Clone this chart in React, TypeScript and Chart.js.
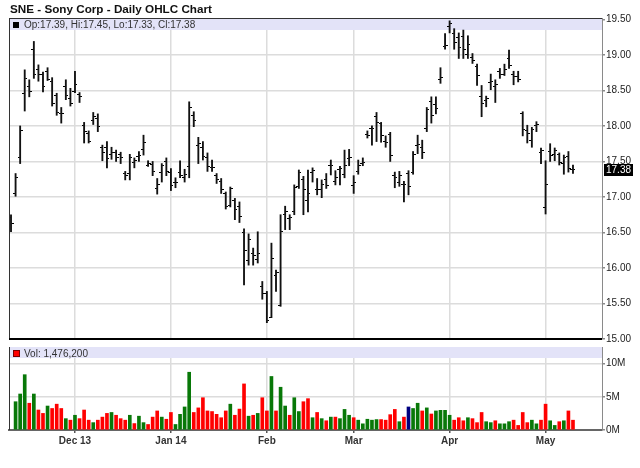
import React, { useEffect, useRef } from 'react';
import { Chart, registerables } from 'chart.js';

Chart.register(...registerables);

// ---------------- data ----------------
const TITLE = 'SNE - Sony Corp - Daily OHLC Chart';
const MONTH_START_INDEX = [14, 35, 56, 75, 96, 117];
const MONTH_LABELS = ['Dec 13', 'Jan 14', 'Feb', 'Mar', 'Apr', 'May'];
const PRICE_TICKS = [15, 15.5, 16, 16.5, 17, 17.5, 18, 18.5, 19, 19.5];
const VOLUME_TICKS = [0, 5e6, 10e6];

const OPEN = [
  16.71, 17.05, 17.55, 18.45, 18.56, 19.07, 18.79, 18.72, 18.77, 18.63,
  18.43, 18.17, 18.55, 18.39, 18.49, 18.44, 18.0, 17.9, 18.08, 18.11,
  17.69, 17.7, 17.6, 17.63, 17.6, 17.33, 17.33, 17.49, 17.57, 17.67,
  17.45, 17.46, 17.12, 17.35, 17.5, 17.35, 17.2, 17.35, 17.27, 17.43,
  18.15, 17.72, 17.7, 17.55, 17.41, 17.3, 17.22, 17.05, 16.88, 16.95,
  16.87, 16.5, 16.1, 16.2, 16.12, 15.74, 15.64, 15.3, 15.9, 15.47,
  16.75, 16.7, 16.8, 17.15, 17.25, 16.95, 17.35, 17.11, 17.1, 17.24,
  17.44, 17.22, 17.38, 17.31, 17.54, 17.16, 17.36, 17.47, 17.88, 17.96,
  18.14, 18.03, 17.78, 17.88, 17.3, 17.2, 17.18, 17.33, 17.35, 17.72,
  17.7, 17.96, 18.35, 18.3, 18.66, 19.12, 19.4, 19.3, 19.25, 19.26,
  19.0, 18.96, 18.84, 18.42, 18.36, 18.61, 18.55, 18.76, 18.73, 18.95,
  18.72, 18.7, 18.17, 17.93, 17.8, 18.01, 17.63, 16.85, 17.64, 17.6,
  17.6, 17.47, 17.57, 17.39,
];
const HIGH = [
  16.75, 17.33, 18.0, 18.79, 18.65, 19.19, 18.86, 18.76, 18.82, 18.68,
  18.46, 18.26, 18.65, 18.53, 18.77, 18.47, 18.05, 17.93, 18.19, 18.17,
  17.73, 17.78, 17.7, 17.66, 17.63, 17.36, 17.6, 17.55, 17.64, 17.87,
  17.51, 17.5, 17.26, 17.47, 17.55, 17.4, 17.27, 17.51, 17.39, 18.34,
  18.2, 17.84, 17.78, 17.62, 17.52, 17.33, 17.26, 17.07, 17.14, 16.98,
  16.93, 16.55, 16.48, 16.28, 16.51, 15.81, 15.67, 16.35, 15.97, 16.75,
  16.87, 16.75, 17.17, 17.38, 17.29, 17.38, 17.41, 17.26, 17.24, 17.33,
  17.52, 17.37, 17.43, 17.66, 17.67, 17.3, 17.52, 17.55, 17.93, 18.0,
  18.19, 18.05, 17.86, 17.91, 17.35, 17.36, 17.22, 17.37, 17.64, 17.87,
  17.8, 18.26, 18.41, 18.41, 18.82, 19.3, 19.48, 19.37, 19.31, 19.35,
  19.27, 19.02, 18.87, 18.57, 18.42, 18.73, 18.65, 18.81, 18.87, 19.07,
  18.77, 18.77, 18.2, 18.01, 17.98, 18.06, 17.69, 17.51, 17.75, 17.69,
  17.62, 17.59, 17.64, 17.45,
];
const LOW = [
  16.51, 17.01, 17.47, 18.21, 18.41, 18.67, 18.63, 18.48, 18.64, 18.28,
  18.15, 18.04, 18.37, 18.28, 18.47, 18.33, 17.76, 17.76, 18.02, 17.92,
  17.51, 17.41, 17.53, 17.5, 17.47, 17.24, 17.24, 17.41, 17.5, 17.59,
  17.43, 17.3, 17.04, 17.21, 17.3, 17.09, 17.13, 17.27, 17.21, 17.27,
  17.99, 17.47, 17.52, 17.36, 17.36, 17.19, 17.05, 16.83, 16.86, 16.68,
  16.64, 15.76, 16.04, 16.04, 16.07, 15.56, 15.23, 15.3, 15.67, 15.46,
  16.54, 16.54, 16.75, 17.12, 16.75, 16.79, 17.21, 17.03, 16.99, 17.12,
  17.31, 17.17, 17.17, 17.27, 17.44, 17.05, 17.32, 17.44, 17.83, 17.73,
  17.78, 17.77, 17.7, 17.5, 17.13, 17.15, 16.93, 17.03, 17.32, 17.61,
  17.54, 17.92, 18.04, 18.17, 18.6, 19.08, 19.31, 19.08, 18.95, 18.95,
  18.95, 18.88, 18.57, 18.13, 18.27, 18.51, 18.33, 18.67, 18.71, 18.81,
  18.58, 18.62, 17.86, 17.76, 17.7, 17.92, 17.47, 16.76, 17.5, 17.51,
  17.45, 17.32, 17.35, 17.33,
];
const CLOSE = [
  16.62, 17.28, 17.93, 18.67, 18.49, 18.73, 18.72, 18.55, 18.66, 18.32,
  18.19, 18.17, 18.43, 18.32, 18.59, 18.42, 17.92, 17.78, 18.14, 17.99,
  17.63, 17.54, 17.63, 17.56, 17.55, 17.3, 17.56, 17.51, 17.58, 17.77,
  17.47, 17.36, 17.17, 17.44, 17.36, 17.16, 17.21, 17.3, 17.32, 18.26,
  18.08, 17.75, 17.57, 17.43, 17.41, 17.25, 17.1, 16.86, 17.12, 16.82,
  16.73, 16.25, 16.4, 16.17, 16.2, 15.64, 15.26, 16.13, 15.93, 16.52,
  16.8, 16.71, 17.14, 17.35, 17.1, 17.05, 17.37, 17.1, 17.17, 17.16,
  17.45, 17.28, 17.4, 17.44, 17.55, 17.21, 17.45, 17.49, 17.86, 17.97,
  18.05, 17.87, 17.76, 17.58, 17.27, 17.3, 17.17, 17.15, 17.6, 17.74,
  17.63, 18.23, 18.15, 18.25, 18.68, 19.13, 19.44, 19.18, 19.1, 19.08,
  19.15, 18.92, 18.71, 18.32, 18.38, 18.63, 18.58, 18.73, 18.8, 18.85,
  18.7, 18.65, 17.95, 17.9, 17.95, 18.02, 17.66, 17.17, 17.58, 17.65,
  17.49, 17.55, 17.4, 17.38,
];
// volume in millions of shares (first session has no volume bar)
const VOLUME_M = [
  null, 4.26, 5.42, 8.33, 4.03, 5.42, 3.01, 2.5, 3.61, 3.24,
  3.89, 3.24, 1.71, 1.48, 2.22, 1.71, 3.01, 1.48, 1.11, 1.48,
  1.94, 2.5, 2.64, 2.22, 1.71, 1.48, 2.22, 0.97, 2.08, 1.11,
  0.83, 1.94, 2.87, 1.94, 1.62, 2.64, 0.83, 2.36, 3.47, 8.7,
  2.64, 3.33, 4.86, 2.87, 2.78, 2.36, 1.85, 2.87, 3.89, 2.22,
  3.15, 6.94, 2.08, 2.22, 2.5, 4.86, 2.87, 8.06, 2.87, 6.44,
  3.61, 2.22, 4.86, 2.78, 4.26, 4.72, 1.85, 2.64, 1.71, 1.39,
  1.94, 1.94, 1.71, 3.1, 2.22, 1.85, 1.48, 0.93, 1.62, 1.48,
  1.57, 1.57, 1.48, 2.31, 3.1, 1.25, 1.94, 3.47, 3.24, 4.03,
  2.87, 3.33, 2.41, 2.87, 2.96, 2.96, 2.22, 1.48, 1.85, 1.39,
  1.85, 1.71, 1.11, 2.64, 1.25, 1.11, 1.39, 0.93, 0.93, 1.25,
  1.48, 0.69, 2.64, 1.11, 1.48, 0.93, 1.48, 3.89, 1.39, 0.69,
  1.25, 1.39, 2.87, 1.4762,
];
const HIGHLIGHT_INDEX = 87;

// ---------------- styles ----------------
const FONT = '"Liberation Sans", Arial, Helvetica, sans-serif';
const BAND = '#e3e3f8';
const GRID = '#dcdcdc';
const AXIS = '#8a8a8a';
const GREEN = '#087808';
const RED = '#ff0000';
const NAVY = '#000080';
const X_MIN = -0.44;
const X_MAX = 129.35;

function tickCanvas(side: 'left' | 'right') {
  const c = document.createElement('canvas');
  c.width = 5;
  c.height = 1;
  const g = c.getContext('2d')!;
  g.fillStyle = '#000';
  if (side === 'left') g.fillRect(0, 0, 2, 1);
  else g.fillRect(3, 0, 2, 1);
  return c;
}

const xScaleBase = (withLabels: boolean) => ({
  type: 'linear' as const,
  min: X_MIN,
  max: X_MAX,
  offset: false,
  afterBuildTicks: (s: any) => {
    s.ticks = MONTH_START_INDEX.map((v) => ({ value: v }));
  },
  afterFit: (s: any) => {
    s.height = withLabels ? 16 : 0;
  },
  grid: {
    offset: false,
    color: GRID,
    lineWidth: 1.5,
    drawTicks: withLabels,
    tickLength: 3,
    tickColor: '#555',
  },
  border: withLabels ? { display: true, color: '#666', width: 2 } : { display: false },
  ticks: {
    display: withLabels,
    autoSkip: false,
    maxRotation: 0,
    padding: 2,
    color: '#333',
    font: { family: FONT, size: 10, weight: 'bold' as const },
    callback: (_v: any, i: number) => MONTH_LABELS[i],
  },
});

const pricePlugin = {
  id: 'pricePanel',
  beforeDatasetsDraw(chart: any) {
    const { ctx, chartArea: a } = chart;
    const n = CLOSE.length - 1;
    ctx.save();
    ctx.fillStyle = BAND;
    ctx.fillRect(a.left, a.top, a.right - a.left, 12);
    ctx.fillStyle = '#000';
    ctx.fillRect(a.left + 4, a.top + 4, 6, 6);
    ctx.font = `10px ${FONT}`;
    ctx.fillStyle = '#333';
    ctx.textBaseline = 'alphabetic';
    ctx.textAlign = 'left';
    ctx.fillText(
      `Op:${OPEN[n].toFixed(2)}, Hi:${HIGH[n].toFixed(2)}, Lo:${LOW[n].toFixed(2)}, Cl:${CLOSE[n].toFixed(2)}`,
      a.left + 15,
      a.top + 10
    );
    ctx.restore();
  },
  afterDraw(chart: any) {
    const { ctx, chartArea: a } = chart;
    const n = CLOSE.length - 1;
    ctx.save();
    ctx.font = `bold 11.7px ${FONT}`;
    ctx.fillStyle = '#111';
    ctx.textAlign = 'left';
    ctx.textBaseline = 'alphabetic';
    ctx.fillText(TITLE, 10, 12.5);
    ctx.fillStyle = '#333';
    ctx.fillRect(a.left, a.top, a.right - a.left, 1);
    ctx.fillRect(a.left, a.top, 1, a.bottom - a.top);
    ctx.fillStyle = '#000';
    ctx.fillRect(a.left, a.bottom - 1, a.right - a.left, 2);
    const y = chart.scales.y.getPixelForValue(CLOSE[n]);
    ctx.fillStyle = '#000';
    ctx.fillRect(a.right + 2, Math.round(y) - 6, 29, 12);
    ctx.fillStyle = '#fff';
    ctx.font = `10px ${FONT}`;
    ctx.textBaseline = 'middle';
    ctx.fillText(CLOSE[n].toFixed(2), a.right + 4, Math.round(y) + 0.5);
    ctx.restore();
  },
};

const volumePlugin = {
  id: 'volumePanel',
  beforeDatasetsDraw(chart: any) {
    const { ctx, chartArea: a } = chart;
    const n = VOLUME_M.length - 1;
    ctx.save();
    ctx.fillStyle = BAND;
    ctx.fillRect(a.left, a.top, a.right - a.left, 11);
    ctx.fillStyle = RED;
    ctx.fillRect(a.left + 4, a.top + 3, 6, 6);
    ctx.strokeStyle = '#700';
    ctx.lineWidth = 1;
    ctx.strokeRect(a.left + 4.5, a.top + 3.5, 6, 6);
    ctx.font = `10px ${FONT}`;
    ctx.fillStyle = '#333';
    ctx.textAlign = 'left';
    ctx.textBaseline = 'alphabetic';
    const vol = Math.round((VOLUME_M[n] as number) * 1e6).toLocaleString('en-US');
    ctx.fillText(`Vol: ${vol}`, a.left + 15, a.top + 9.5);
    ctx.restore();
  },
  afterDraw(chart: any) {
    const { ctx, chartArea: a } = chart;
    ctx.save();
    ctx.fillStyle = '#333';
    ctx.fillRect(a.left, a.top, 1, a.bottom - a.top);
    ctx.restore();
  },
};

export default function App() {
  const priceRef = useRef<HTMLCanvasElement>(null);
  const volRef = useRef<HTMLCanvasElement>(null);

  useEffect(() => {
    document.body.style.margin = '0';
    const openTick = tickCanvas('left');
    const closeTick = tickCanvas('right');
    const idx = CLOSE.map((_, i) => i);

    const priceChart = new Chart(priceRef.current!, {
      type: 'bar',
      data: {
        datasets: [
          {
            type: 'bar',
            data: idx.map((i) => ({ x: i, y: [LOW[i], HIGH[i]] })) as any,
            backgroundColor: '#111',
            barThickness: 1.2,
            grouped: false,
          } as any,
          {
            type: 'scatter',
            data: idx.map((i) => ({ x: i, y: OPEN[i] })),
            pointStyle: openTick as any,
            pointRadius: 3,
            pointHoverRadius: 3,
          } as any,
          {
            type: 'scatter',
            data: idx.map((i) => ({ x: i, y: CLOSE[i] })),
            pointStyle: closeTick as any,
            pointRadius: 3,
            pointHoverRadius: 3,
          } as any,
        ],
      },
      options: {
        responsive: false,
        animation: false,
        devicePixelRatio: 1,
        events: [],
        layout: { padding: { left: 9, top: 18, right: 0, bottom: 11 } },
        plugins: { legend: { display: false }, tooltip: { enabled: false }, title: { display: false } },
        scales: {
          x: xScaleBase(false) as any,
          y: {
            type: 'linear',
            position: 'right',
            min: 15,
            max: 19.52,
            afterBuildTicks: (s: any) => {
              s.ticks = PRICE_TICKS.map((v) => ({ value: v }));
            },
            afterFit: (s: any) => {
              s.width = 38;
            },
            grid: { color: GRID, lineWidth: 1.5, tickLength: 3, tickColor: AXIS },
            border: { display: true, color: AXIS, width: 1 },
            ticks: {
              padding: 1,
              color: '#222',
              font: { family: FONT, size: 10 },
              callback: (v: any) => Number(v).toFixed(2),
            },
          },
        },
      },
      plugins: [pricePlugin],
    });

    const volIdx = idx.filter((i) => VOLUME_M[i] != null);
    const volColors = volIdx.map((i) =>
      i === HIGHLIGHT_INDEX ? NAVY : i > 0 && CLOSE[i] < CLOSE[i - 1] ? RED : GREEN
    );
    const volChart = new Chart(volRef.current!, {
      type: 'bar',
      data: {
        datasets: [
          {
            data: volIdx.map((i) => ({ x: i, y: (VOLUME_M[i] as number) * 1e6 })) as any,
            backgroundColor: volColors,
            barThickness: 3,
            grouped: false,
          } as any,
        ],
      },
      options: {
        responsive: false,
        animation: false,
        devicePixelRatio: 1,
        events: [],
        layout: { padding: { left: 9, top: 0, right: 0, bottom: 22 } },
        plugins: { legend: { display: false }, tooltip: { enabled: false } },
        scales: {
          x: xScaleBase(true) as any,
          y: {
            type: 'linear',
            position: 'right',
            min: 0,
            max: 12.5e6,
            afterBuildTicks: (s: any) => {
              s.ticks = VOLUME_TICKS.map((v) => ({ value: v }));
            },
            afterFit: (s: any) => {
              s.width = 38;
            },
            grid: { color: GRID, lineWidth: 1.5, tickLength: 3, tickColor: AXIS },
            border: { display: true, color: AXIS, width: 1 },
            ticks: {
              padding: 1,
              color: '#222',
              font: { family: FONT, size: 10 },
              callback: (v: any) => `${Number(v) / 1e6}M`,
            },
          },
        },
      },
      plugins: [volumePlugin],
    });

    return () => {
      priceChart.destroy();
      volChart.destroy();
    };
  }, []);

  return (
    <div style={{ position: 'relative', width: 640, height: 468, background: '#fff' }}>
      <canvas
        ref={priceRef}
        width={640}
        height={350}
        style={{ position: 'absolute', left: 0, top: 0, width: 640, height: 350 }}
      />
      <canvas
        ref={volRef}
        width={640}
        height={128}
        style={{ position: 'absolute', left: 0, top: 340, width: 640, height: 128 }}
      />
    </div>
  );
}
